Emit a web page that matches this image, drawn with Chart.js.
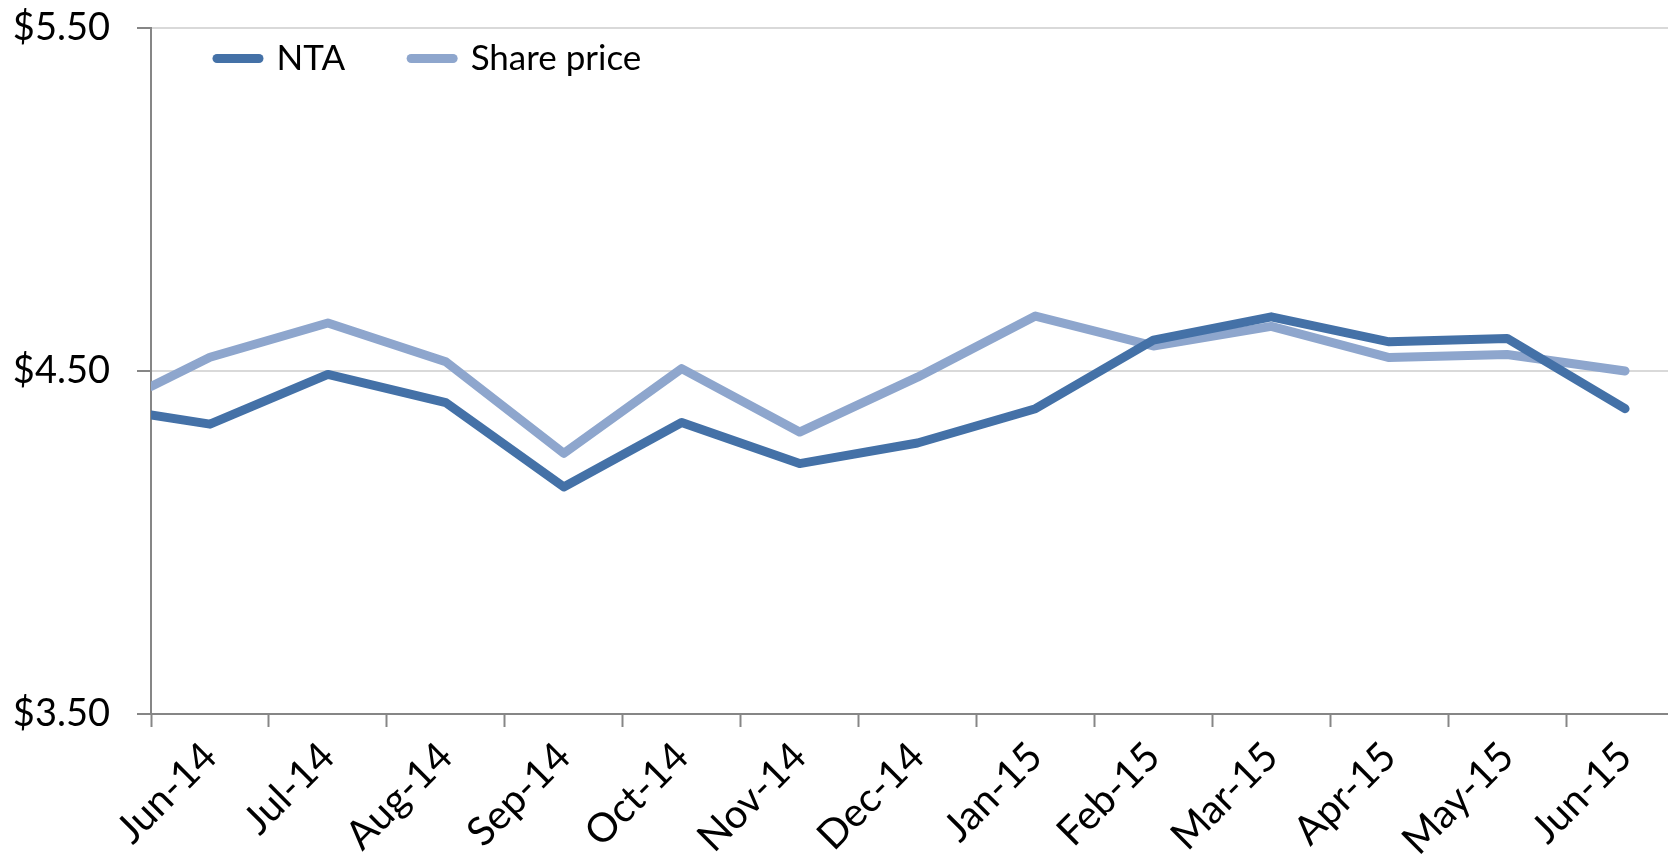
<!DOCTYPE html>
<html>
<head>
<meta charset="utf-8">
<title>NTA vs share price</title>
<script src="https://cdn.jsdelivr.net/npm/chart.js@4.4.1/dist/chart.umd.min.js"></script>
<style>
  html, body { margin: 0; padding: 0; background: #fff; overflow: hidden; }
  /* the plot runs a little past the right edge of the window, as in the original */
  #wrap { position: relative; width: 1700px; height: 861px; }
</style>
</head>
<body>
<div id="wrap"><canvas id="navChart"></canvas></div>
<script>
// month labels, one per category
const months = ['Jun-14', 'Jul-14', 'Aug-14', 'Sep-14', 'Oct-14', 'Nov-14', 'Dec-14',
                'Jan-15', 'Feb-15', 'Mar-15', 'Apr-15', 'May-15', 'Jun-15'];
// where each reading sits on the month axis (first one is on the left edge)
const pointPos = [-0.5, 0, 1, 2, 3, 4, 5, 6, 7, 8, 9, 10, 11, 12];
const ntaValues = [4.372, 4.345, 4.49, 4.408, 4.162, 4.35, 4.23, 4.29, 4.39, 4.59, 4.658, 4.585, 4.595, 4.39];
const sharePriceValues = [4.455, 4.54, 4.64, 4.527, 4.26, 4.507, 4.322, 4.482, 4.66, 4.573, 4.63, 4.539, 4.548, 4.50];
const yTicks = [3.5, 4.5, 5.5];

const ntaColor = '#4471A7';
const shareColor = '#8EA6CD';
const axisGrey = '#868686';
const font = 'Lato';

function toPoints(values) {
    return values.map((v, i) => ({ x: pointPos[i], y: v }));
}

// legend lives inside the plot, just under the top gridline.
// refit it with a short height so each entry gets its own column (side by side)
const legendPlace = {
    id: 'legendPlace',
    afterLayout(chart) {
        const lg = chart.legend;
        if (!lg) return;
        lg.update(lg.maxWidth, 200, lg._margins);
        lg.left = chart.chartArea.left;
        lg.top = chart.chartArea.top - 53;
        lg.bottom = lg.top + lg.height;
    }
};

const ctx = document.getElementById('navChart').getContext('2d');
const navChart = new Chart(ctx, {
    type: 'line',
    data: {
        datasets: [{
            label: 'NTA',
            data: toPoints(ntaValues),
            borderColor: ntaColor,
            backgroundColor: ntaColor,
        }, {
            label: 'Share price',
            data: toPoints(sharePriceValues),
            borderColor: shareColor,
            backgroundColor: shareColor,
        }]
    },
    options: {
        responsive: true,
        maintainAspectRatio: false,
        animation: false,
        layout: {
            padding: { top: 28, left: 10, right: 16, bottom: 0 }
        },
        elements: {
            line: {
                borderWidth: 9,
                tension: 0,
                borderJoinStyle: 'round',
                borderCapStyle: 'round'
            },
            point: { radius: 0, hoverRadius: 0 }
        },
        plugins: {
            tooltip: { enabled: false },
            legend: {
                position: 'chartArea',
                align: 'start',
                labels: {
                    usePointStyle: true,
                    pointStyle: 'line',
                    pointStyleWidth: 42,
                    padding: 66,
                    color: '#000',
                    font: { family: font, size: 35 },
                    generateLabels: chart =>
                        Chart.defaults.plugins.legend.labels.generateLabels(chart)
                            .map(item => Object.assign(item, { lineWidth: 9, lineCap: 'round' }))
                }
            }
        },
        scales: {
            x: {
                type: 'linear',
                min: -0.5,
                max: 12.5,
                afterBuildTicks: scale => {
                    scale.ticks = months.map((m, i) => ({ value: i }));
                },
                afterFit: scale => { scale.height = 147; },
                grid: {
                    offset: true,
                    drawOnChartArea: false,
                    tickLength: 13,
                    tickColor: axisGrey,
                    tickWidth: 2
                },
                border: { color: axisGrey, width: 2 },
                ticks: {
                    callback: v => months[v],
                    autoSkip: false,
                    minRotation: 45,
                    maxRotation: 45,
                    padding: 6,
                    color: '#000',
                    font: { family: font, size: 40 }
                }
            },
            y: {
                min: 3.5,
                max: 5.5,
                afterBuildTicks: scale => {
                    scale.ticks = yTicks.map(v => ({ value: v }));
                },
                afterFit: scale => {
                    scale.width = 141;
                    // top label may poke above the plot, like the original
                    scale.paddingTop = 0;
                },
                grid: {
                    color: c => (c.tick && c.tick.value === yTicks[0]) ? 'rgba(0,0,0,0)' : '#d9d9d9',
                    lineWidth: 2,
                    tickColor: axisGrey,
                    tickLength: 14,
                    tickWidth: 2
                },
                border: { color: axisGrey, width: 2 },
                ticks: {
                    callback: v => '$' + Number(v).toFixed(2),
                    padding: 27,
                    color: '#000',
                    font: { family: font, size: 38 }
                }
            }
        }
    },
    plugins: [legendPlace]
});
</script>
</body>
</html>
